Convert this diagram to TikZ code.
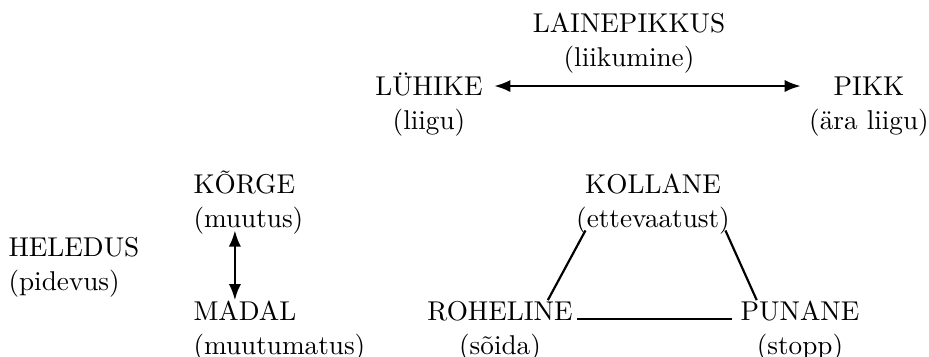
\documentclass[tikz,border=0pt]{standalone}
\usepackage{tikz}
\usetikzlibrary{positioning,arrows.meta}

\begin{document}
\begin{tikzpicture}[
    word/.style={inner sep=0pt, text height=6.8pt, text depth=0pt},
    sub/.style={inner sep=0pt},
    arr/.style={{Latex[length=6pt,width=4.5pt]}-{Latex[length=6pt,width=4.5pt]}, line width=1pt},
    link/.style={thick}
  ]
  \useasboundingbox (0,0) rectangle (12,4.611);
  % Wavelength
  \node[word] (laine) at (8.125,4.315) {LAINEPIKKUS};
  \node[sub, below=4.6pt of laine] (lainesub) {(liikumine)};
  \node[word] (luhike) at (5.541,3.50) {LÜHIKE};
  \node[sub, below=4.6pt of luhike] (luhikesub) {(liigu)};
  \node[word] (pikk) at (11.225,3.50) {PIKK};
  \node[sub, below=4.6pt of pikk] (pikksub) {(ära liigu)};
  \draw[arr] ([xshift=4pt]luhike.east) -- ([xshift=-11.8pt]pikk.west);
  % Brightness
  \node[word, anchor=west] (heledus) at (0.103,1.42) {HELEDUS};
  \node[sub, below=4.6pt of heledus.south west, anchor=north west] (heledussub) {(pidevus)};
  \node[word, anchor=west] (korge) at (2.493,2.235) {KÕRGE};
  \node[sub, below=4.6pt of korge.south west, anchor=north west] (korgesub) {(muutus)};
  \node[word, anchor=west] (madal) at (2.493,0.59) {MADAL};
  \node[sub, below=4.6pt of madal.south west, anchor=north west] (madalsub) {(muutumatus)};
  \draw[arr] ([xshift=15.4pt,yshift=1.6pt]korgesub.south west) -- ([xshift=15.4pt,yshift=0.4pt]madal.north west);
  % Traffic light
  \node[word] (kollane) at (8.435,2.235) {KOLLANE};
  \node[sub, below=4.6pt of kollane] (kollanesub) {(ettevaatust)};
  \node[word] (roheline) at (6.459,0.59) {ROHELINE};
  \node[sub, below=4.6pt of roheline] (rohelinesub) {(sõida)};
  \node[word] (punane) at (10.334,0.59) {PUNANE};
  \node[sub, below=4.6pt of punane] (punanesub) {(stopp)};
  \draw[link] ([xshift=3.6pt,yshift=1.5pt]kollanesub.south west) -- ([xshift=-9.3pt,yshift=0.5pt]roheline.north east);
  \draw[link] ([xshift=-1.8pt,yshift=1.5pt]kollanesub.south east) -- ([xshift=6.1pt,yshift=0.5pt]punane.north west);
  \draw[link] ([xshift=1.4pt,yshift=-2.8pt]roheline.east) -- ([xshift=-3pt,yshift=-2.8pt]punane.west);
\end{tikzpicture}
\end{document}
